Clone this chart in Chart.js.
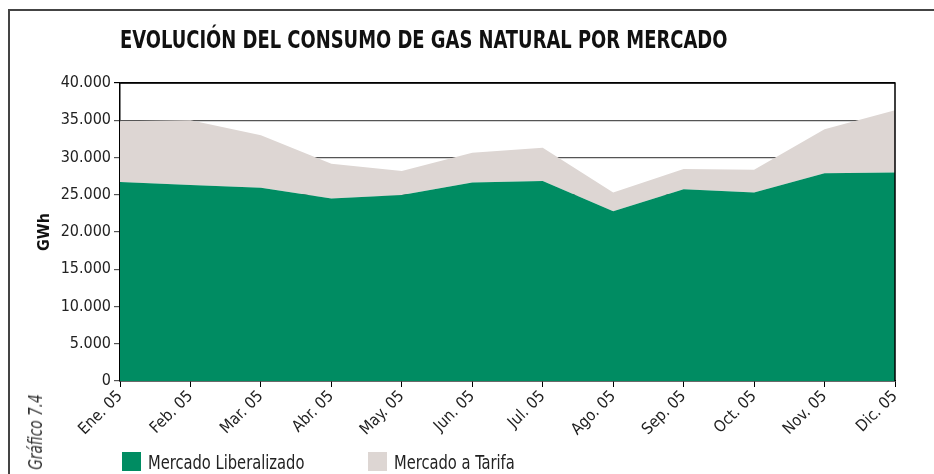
<!DOCTYPE html>
<html>
<head>
<meta charset="utf-8">
<script src="https://cdn.jsdelivr.net/npm/chart.js@4"></script>
<style>
  html,body{margin:0;padding:0;background:#fff;overflow:hidden;width:934px;height:474px;}
  #wrap{position:relative;width:934px;height:474px;overflow:hidden;font-family:"Liberation Sans Narrow","DejaVu Sans Condensed",sans-serif;}
  #title{position:absolute;left:120px;top:26px;font-weight:bold;font-size:24px;color:#111;white-space:nowrap;transform:scaleX(0.83);transform-origin:0 0;}
  #fig{position:absolute;left:35px;top:432px;transform:translate(-50%,-50%) rotate(-90deg) scaleX(0.8);font-style:italic;font-size:19px;color:#333;white-space:nowrap;}
  .leg{position:absolute;top:452px;height:19px;display:flex;align-items:center;font-size:19px;color:#222;white-space:nowrap;}
  .sw{width:19px;height:19px;margin-right:7px;flex:none;}
  .lt{display:inline-block;transform:scaleX(0.86);transform-origin:0 50%;}
  canvas{position:absolute;left:0;top:0;}
</style>
</head>
<body>
<div id="wrap">
  <canvas id="c" width="934" height="474"></canvas>
  <div id="title">EVOLUCIÓN DEL CONSUMO DE GAS NATURAL POR MERCADO</div>
  <div id="fig">Gráfico 7.4</div>
  <div class="leg" style="left:122px;"><div class="sw" style="background:#008C62"></div><span class="lt">Mercado Liberalizado</span></div>
  <div class="leg" style="left:368px;"><div class="sw" style="background:#DDD6D3"></div><span class="lt">Mercado a Tarifa</span></div>
</div>
<script>
const categories = ["Ene. 05","Feb. 05","Mar. 05","Abr. 05","May. 05","Jun. 05","Jul. 05","Ago. 05","Sep. 05","Oct. 05","Nov. 05","Dic. 05"];
const mercadoLiberalizado = [26700, 26300, 25950, 24500, 24950, 26650, 26850, 22800, 25750, 25300, 27900, 28000];
const mercadoTarifa = [8150, 8700, 7050, 4650, 3250, 4000, 4450, 2500, 2700, 3050, 5900, 8350];
const seriesNames = ["Mercado Liberalizado", "Mercado a Tarifa"];
const yTickMax = 40000, yTickStep = 5000;

const FONT = '"Liberation Sans Narrow","DejaVu Sans Condensed",sans-serif';

const framePlugin = {
  id: 'pageFrame',
  beforeDraw(chart) {
    const ctx = chart.ctx;
    ctx.save();
    ctx.strokeStyle = '#444';
    ctx.lineWidth = 2;
    ctx.beginPath();
    ctx.moveTo(9, chart.height);
    ctx.lineTo(9, 10);
    ctx.lineTo(chart.width, 10);
    ctx.stroke();
    ctx.restore();
  },
  afterDatasetsDraw(chart) {
    const a = chart.chartArea, ctx = chart.ctx;
    ctx.save();
    ctx.strokeStyle = '#000';
    ctx.lineWidth = 1.5;
    ctx.beginPath();
    ctx.moveTo(a.left, a.top);
    ctx.lineTo(a.right, a.top);
    ctx.lineTo(a.right, a.bottom);
    ctx.stroke();
    ctx.restore();
  }
};

new Chart(document.getElementById('c'), {
  type: 'line',
  data: {
    labels: categories,
    datasets: [
      { label: seriesNames[0], data: mercadoLiberalizado, fill: 'origin', backgroundColor: '#008C62', borderWidth: 0, pointRadius: 0, tension: 0 },
      { label: seriesNames[1], data: mercadoTarifa, fill: '-1', backgroundColor: '#DDD6D3', borderWidth: 0, pointRadius: 0, tension: 0 }
    ]
  },
  options: {
    responsive: false,
    animation: false,
    layout: { padding: { left: 35, right: 39, top: 83, bottom: 30 } },
    plugins: { legend: { display: false }, tooltip: { enabled: false } },
    scales: {
      x: {
        stacked: true,
        offset: false,
        afterFit(s) { s.height = 63; },
        grid: { drawOnChartArea: false, drawTicks: true, tickLength: 6, color: '#000', lineWidth: 1 },
        border: { color: '#000', width: 1.5 },
        ticks: { minRotation: 45, maxRotation: 45, color: '#222', font: { family: FONT, size: 16 }, padding: 0 },
      },
      y: {
        stacked: true,
        min: 0, max: yTickMax,
        afterFit(s) { s.width = 85; },
        grid: { drawOnChartArea: true, drawTicks: true, tickLength: 6, color: (c) => (c.tick && c.tick.value === yTickMax) ? '#000' : '#555', lineWidth: 1.2 },
        border: { color: '#000', width: 1.5 },
        ticks: { stepSize: yTickStep, color: '#222', font: { family: FONT, size: 16 }, padding: 3,
          callback: (v) => v.toLocaleString('de-DE') },
        title: { display: true, text: 'GWh', color: '#111', font: { family: FONT, size: 16, weight: 'bold' }, padding: { top: 0, bottom: 0 } }
      }
    }
  },
  plugins: [framePlugin]
});
</script>
</body>
</html>
